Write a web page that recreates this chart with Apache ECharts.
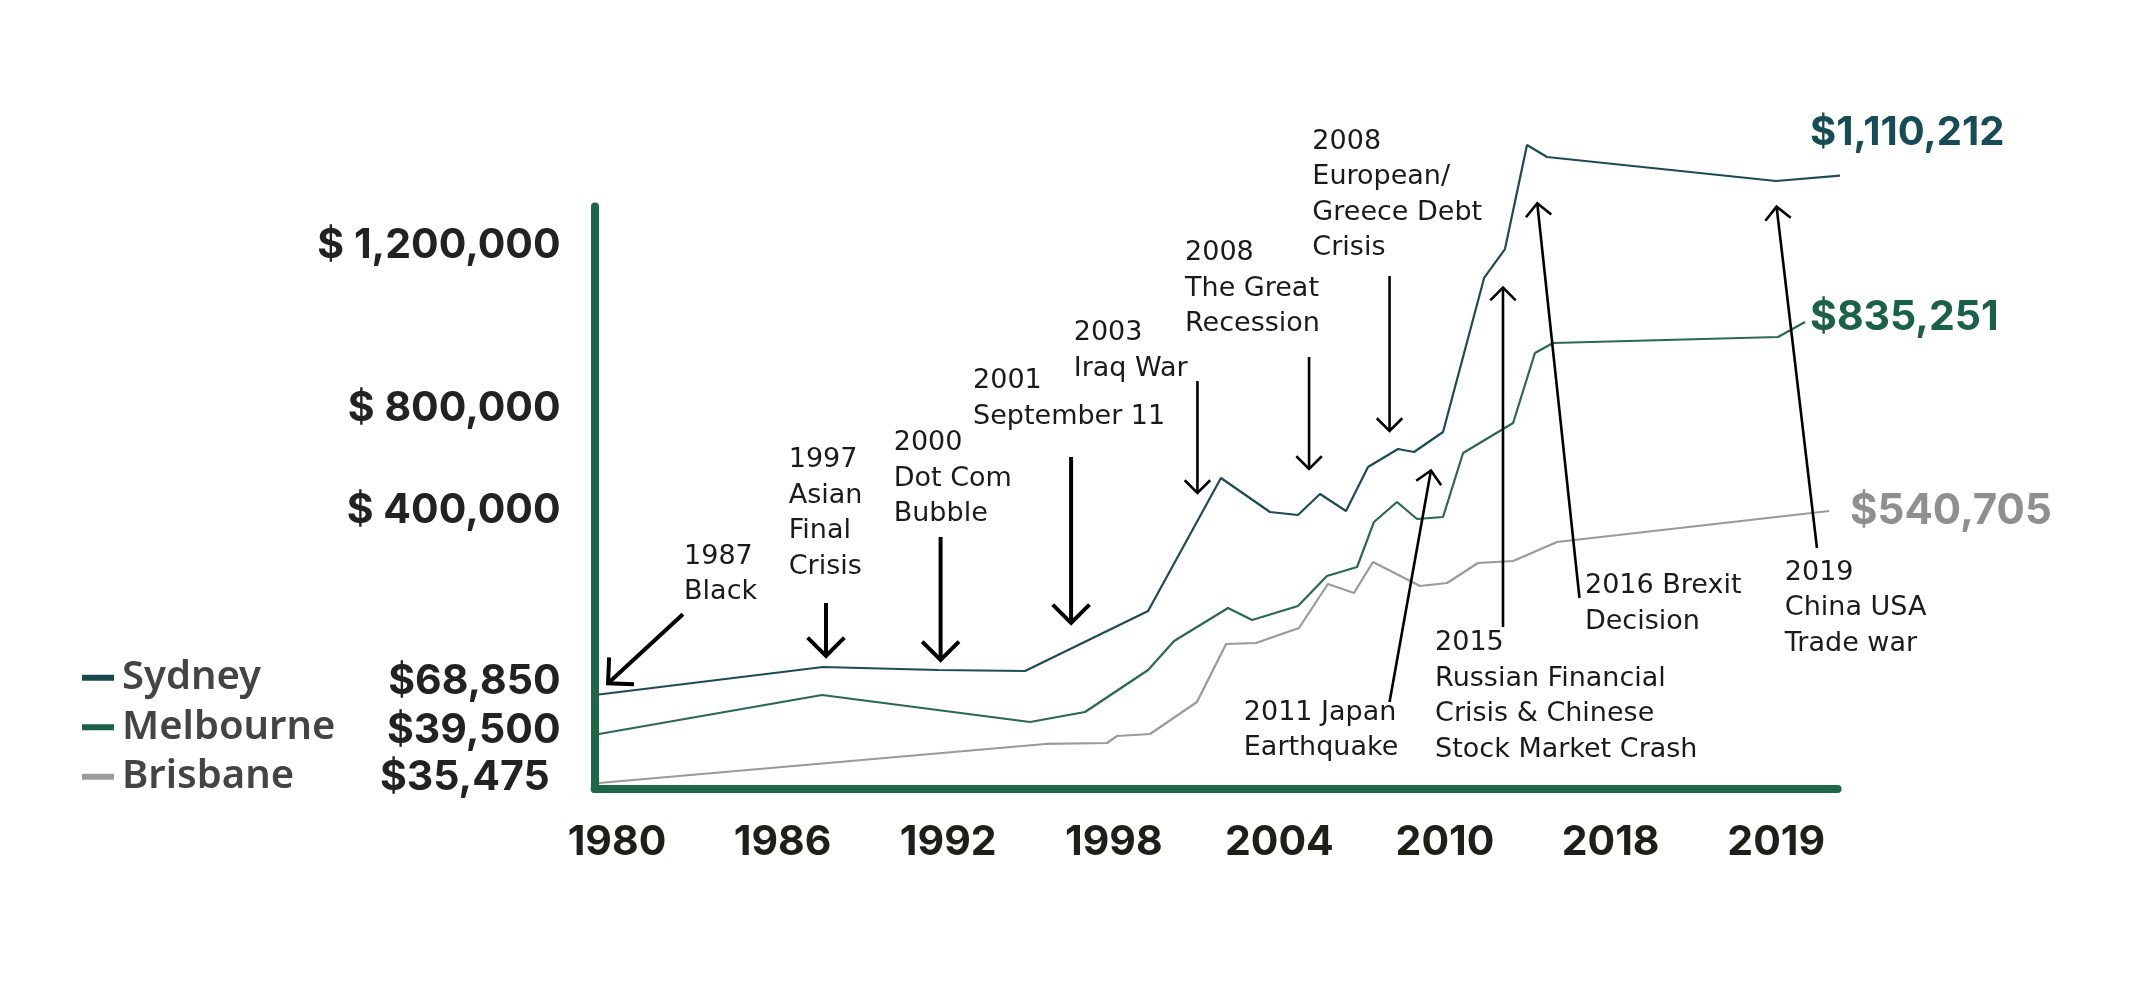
<!DOCTYPE html>
<html><head><meta charset="utf-8">
<script src="https://cdn.jsdelivr.net/npm/echarts@6/dist/echarts.min.js"></script>
<style>html,body{margin:0;padding:0;background:#fff;}#c{width:2151px;height:988px;}</style>
</head><body><div id="c"></div>
<script>
// x positions: one unit per year label slot (the axis is not linear in years)
const years = ['1980','1986','1992','1998','2004','2010','2018','2019'];
const yearPositions = [0,1,2,3,4,5,6,7];
// y positions in chart height units (0 = baseline, 100 = top of axis)
const priceTickLabels = ['$ 1,200,000','$ 800,000','$ 400,000','$68,850','$39,500','$35,475'];
const priceTickPositions = [93.3,65.3,47.8,18.4,10.0,1.9];
const cities = ['Sydney','Melbourne','Brisbane'];
const finalValues = ['$1,110,212','$835,251','$540,705'];

const sydney = [[-0.109,16.22],[1.244,20.94],[1.938,20.43],[2.464,20.26],[3.207,30.56],[3.647,53.39],[3.943,47.55],[4.112,47.04],[4.245,50.64],[4.402,47.73],[4.535,55.28],[4.716,58.37],[4.813,57.85],[4.988,61.29],[5.236,87.73],[5.362,92.70],[5.495,110.56],[5.616,108.50],[6.999,104.38],[7.506,105.58]];
const melbourne = [[-0.109,9.44],[1.238,16.14],[2.494,11.50],[2.826,13.22],[3.207,20.43],[3.364,25.41],[3.690,31.07],[3.835,29.01],[4.112,31.42],[4.287,36.57],[4.469,38.11],[4.571,45.84],[4.710,49.27],[4.831,46.35],[4.988,46.70],[5.109,57.68],[5.411,62.83],[5.543,74.85],[5.652,76.57],[7.011,77.60],[7.174,80.17]];
const brisbane = [[-0.109,1.03],[2.585,7.73],[2.959,7.90],[3.019,9.10],[3.219,9.44],[3.502,14.94],[3.678,24.89],[3.859,25.06],[4.118,27.64],[4.293,35.19],[4.450,33.65],[4.565,38.97],[4.849,34.85],[5.012,35.36],[5.199,38.80],[5.411,39.14],[5.676,42.40],[7.319,47.73]];

const eventLabels = [
  '1987\nBlack',
  '1997\nAsian\nFinal\nCrisis',
  '2000\nDot Com\nBubble',
  '2001\nSeptember 11',
  '2003\nIraq War',
  '2008\nThe Great\nRecession',
  '2008\nEuropean/\nGreece Debt\nCrisis',
  '2011 Japan\nEarthquake',
  '2015\nRussian Financial\nCrisis & Chinese\nStock Market Crash',
  '2016 Brexit\nDecision',
  '2019\nChina USA\nTrade war'
];
// annotation layout (left edge, first line centre) in axis units
const eventTextAnchors = [[0.405,39.88],[1.037,56.48],[1.671,59.35],[2.150,70.04],[2.758,78.28],[3.430,91.97],[4.199,111.13],[3.785,13.10],[4.940,25.01],[5.845,34.85],[7.052,37.13]];
// arrows: tail x, tail y, head x, head y (axis units)
const eventArrows = [[0.398,30.0,-0.054,18.15],[1.262,31.93,1.262,22.83],[1.954,43.26,1.954,22.15],[2.742,57.0,2.742,28.5],[3.505,70.04,3.505,50.82],[4.179,74.16,4.179,54.94],[4.665,88.07,4.665,61.46],[4.665,14.94,4.915,54.68],[5.35,27.81,5.35,86.06],[5.812,32.79,5.557,100.55],[7.246,41.37,7.002,99.97]];
const arrowHeavy = [true,true,true,true,false,false,false,false,false,false,false];

const AXIS = '#1d6748';
const COL = {
  syd: '#1d4b53', sydLab: '#164c55',
  mel: '#2a6850', melLab: '#1b6147',
  bri: '#9a9a9a', briLab: '#8f8f8f'
};
const LH = 35.5;
const numFont = {fontFamily: 'Inter', fontWeight: 700};

const chart = echarts.init(document.getElementById('c'));
chart.setOption({
  animation: false,
  backgroundColor: '#fff',
  grid: {left: 594.6, top: 206.5, right: 313.5, bottom: 199, containLabel: false},
  legend: {
    data: cities, orient: 'vertical', left: 77, top: 648, padding: 5,
    itemWidth: 32, itemHeight: 6, itemGap: 0, icon: 'rect', selectedMode: false,
    textStyle: {fontFamily: '"Noto Sans", "Open Sans"', fontWeight: 600, fontSize: 40, color: '#444', lineHeight: 49.5, padding: [0,0,0,3]}
  },
  xAxis: {
    type: 'value', min: -0.1353, max: 7.370,
    splitLine: {show: false}, axisTick: {show: false},
    axisLine: {show: true, onZero: false, lineStyle: {color: AXIS, width: 8}},
    axisLabel: {
      customValues: yearPositions, margin: 34,
      formatter: function (v) { const i = yearPositions.indexOf(v); return i >= 0 ? years[i] : ''; },
      color: '#1f1f1a', fontSize: 41, lineHeight: 40, ...numFont
    }
  },
  yAxis: {
    type: 'value', min: 0, max: 100,
    splitLine: {show: false}, axisTick: {show: false},
    axisLine: {show: true, onZero: false, lineStyle: {color: AXIS, width: 8}},
    axisLabel: {
      customValues: priceTickPositions, margin: 34,
      formatter: function (v) {
        let best = 0;
        priceTickPositions.forEach(function (p, i) { if (Math.abs(p - v) < Math.abs(priceTickPositions[best] - v)) best = i; });
        const t = priceTickLabels[best];
        return best === priceTickLabels.length - 1 ? '{s|' + t + '}' : t;
      },
      color: '#222', fontSize: 41, ...numFont,
      rich: {s: {color: '#222', fontSize: 41, fontFamily: 'Inter', fontWeight: 700, padding: [0, 11, 0, 0]}}
    }
  },
  series: [
    {
      name: 'Sydney', type: 'line', data: sydney, symbol: 'none', showSymbol: false, clip: false, z: 3,
      lineStyle: {width: 2.2, color: COL.syd}, itemStyle: {color: '#17474f'},
      endLabel: {show: true, formatter: function () { return finalValues[0]; }, color: COL.sydLab, fontSize: 40, ...numFont, align: 'left', verticalAlign: 'middle', distance: 0, offset: [-30, -43]}
    },
    {
      name: 'Melbourne', type: 'line', data: melbourne, symbol: 'none', showSymbol: false, clip: false, z: 3,
      lineStyle: {width: 2.2, color: COL.mel}, itemStyle: {color: '#1c5f47'},
      endLabel: {show: true, formatter: function () { return finalValues[1]; }, color: COL.melLab, fontSize: 41, ...numFont, align: 'left', verticalAlign: 'middle', distance: 0, offset: [5, -4]}
    },
    {
      name: 'Brisbane', type: 'line', data: brisbane, symbol: 'none', showSymbol: false, clip: false, z: 3,
      lineStyle: {width: 2.2, color: COL.bri}, itemStyle: {color: '#9b9b9b'},
      endLabel: {show: true, formatter: function () { return finalValues[2]; }, color: COL.briLab, fontSize: 42, ...numFont, align: 'left', verticalAlign: 'middle', distance: 0, offset: [21, 0]}
    },
    {
      name: 'events', type: 'custom', coordinateSystem: 'cartesian2d', silent: true, z: 5,
      data: eventArrows, encode: {x: [0, 2], y: [1, 3]},
      renderItem: function (params, api) {
        const a = api.coord([api.value(0), api.value(1)]);
        const b = api.coord([api.value(2), api.value(3)]);
        const heavy = arrowHeavy[params.dataIndex];
        const w = heavy ? 4 : 2.6, L = heavy ? 26 : 18;
        const ang = Math.atan2(b[1] - a[1], b[0] - a[0]);
        const h1 = [b[0] - L * Math.cos(ang - Math.PI / 4), b[1] - L * Math.sin(ang - Math.PI / 4)];
        const h2 = [b[0] - L * Math.cos(ang + Math.PI / 4), b[1] - L * Math.sin(ang + Math.PI / 4)];
        return {type: 'group', children: [
          {type: 'line', shape: {x1: a[0], y1: a[1], x2: b[0], y2: b[1]}, style: {stroke: '#000', lineWidth: w}},
          {type: 'polyline', shape: {points: [h1, b, h2]}, style: {stroke: '#000', lineWidth: w, fill: null}}
        ]};
      }
    },
    {
      name: 'eventText', type: 'custom', coordinateSystem: 'cartesian2d', silent: true, z: 6,
      data: eventTextAnchors, encode: {x: 0, y: 1},
      renderItem: function (params, api) {
        const p = api.coord([api.value(0), api.value(1)]);
        return {type: 'text', x: p[0], y: p[1] - LH / 2, style: {
          text: eventLabels[params.dataIndex], fill: '#1a1a1a',
          fontFamily: 'DejaVu Sans', fontWeight: 400, fontSize: 27, lineHeight: LH,
          align: 'left', verticalAlign: 'top'
        }};
      }
    }
  ]
});
</script></body></html>
